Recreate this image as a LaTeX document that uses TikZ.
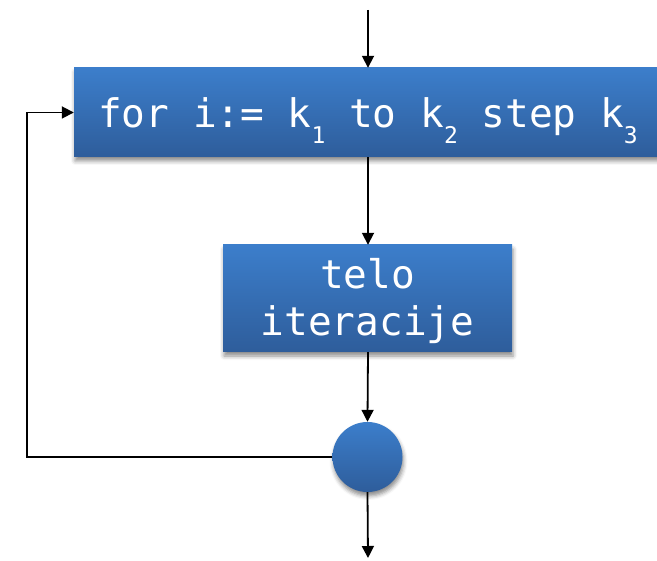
\documentclass[tikz,border=0pt]{standalone}
\usepackage{fontspec}
\setmonofont{DejaVu Sans Mono}
\usetikzlibrary{arrows.meta,shadows.blur}
\definecolor{blocktop}{RGB}{60,126,203}
\definecolor{blockbot}{RGB}{46,93,155}
\def\ksub#1{\raisebox{-16pt}{\fontsize{23}{23}\selectfont #1}}

\begin{document}
\begin{tikzpicture}[x=1pt, y=-1pt,
		block/.style={rectangle, top color=blocktop, bottom color=blockbot, draw=none,
			text=white, font=\ttfamily\fontsize{39.4}{47}\selectfont, align=center, inner sep=0pt,
			blur shadow={shadow xshift=1pt, shadow yshift=-4pt, shadow blur radius=4pt, shadow opacity=45}},
		joint/.style={circle, top color=blocktop, bottom color=blockbot, draw=none, minimum size=70pt, inner sep=0pt,
			blur shadow={shadow xshift=1pt, shadow yshift=-4pt, shadow blur radius=4pt, shadow opacity=45}},
		flow/.style={line width=1.8pt, -{Triangle[length=12pt, width=12pt]}}]
		%%%%% START %%%%%
		
		\useasboundingbox (0, 0) rectangle (657, 561);
		
		\coordinate (entry) at (368, 10);
		\coordinate (exit) at (368, 558);
		\coordinate (backlow) at (27, 457);
		\coordinate (backhigh) at (27, 112.5);
		
		\node[block, minimum width=588pt, minimum height=89pt, text height=31pt, text depth=0pt] (head) at (368, 112.5)
			{for i:= k\ksub{1} to k\ksub{2} step k\ksub{3}};
		% strut on the first line pushes both lines down a little
		\node[block, minimum width=289pt, minimum height=107pt] (body) at (367.5, 298.5)
			{\rule{0pt}{36pt}telo\\iteracije};
		\node[joint] (join) at (367.5, 457) {};
		
		\draw[flow] (entry) -- (head.north -| entry);
		\draw[flow] (head.south -| entry) -- (body.north -| entry);
		\draw[flow] (body.south -| entry) -- (join.north);
		\draw[flow] (join.south) -- (exit);
		\draw[flow] (join.west) -- (backlow) -- (backhigh) -- (head.west);
		
		%%%%% END %%%%%
\end{tikzpicture}
\end{document}
